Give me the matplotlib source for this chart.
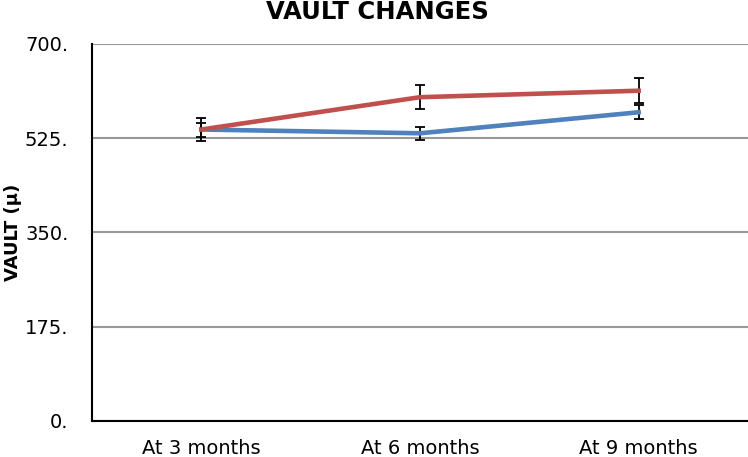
import numpy as np
import matplotlib.pyplot as plt

# Data
categories = ['At 3 months', 'At 6 months', 'At 9 months']
blue_vals = [541, 534, 573]
blue_err = [13, 12, 13]
red_vals = [541, 601, 613]
red_err = [22, 22, 23]
yticks = [0, 175, 350, 525, 700]

fig = plt.figure(figsize=(7.48, 4.57), dpi=100)
ax = fig.add_axes([0.123, 0.079, 0.877, 0.825])

x = np.arange(len(categories))
ax.errorbar(x, blue_vals, yerr=blue_err, color='#4F81BD', lw=3.3,
            ecolor='black', elinewidth=1.3, capsize=3.5, capthick=1.3, zorder=3)
ax.errorbar(x, red_vals, yerr=red_err, color='#C0504D', lw=3.3,
            ecolor='black', elinewidth=1.3, capsize=3.5, capthick=1.3, zorder=4)

ax.set_xlim(-0.5, 2.5)
ax.set_ylim(0, 700)
ax.set_yticks(yticks)
ax.set_yticklabels([f'{v}.' for v in yticks], fontsize=14)
ax.set_xticks(x)
ax.set_xticklabels(categories, fontsize=14)
ax.tick_params(length=0)
ax.tick_params(axis='y', pad=17)
ax.tick_params(axis='x', pad=13)

ax.grid(axis='y', color='#989898', lw=1.5)
ax.set_axisbelow(True)
for s in ['top', 'right']:
    ax.spines[s].set_visible(False)
ax.spines['left'].set_linewidth(1.5)
ax.spines['bottom'].set_linewidth(1.5)

ax.set_ylabel('VAULT (μ)', fontsize=13, fontweight='bold', labelpad=2)
fig.text(0.505, 0.973, 'VAULT CHANGES', fontsize=17.5, fontweight='bold',
         ha='center', va='center')

fig.savefig('out.png', dpi=100)
